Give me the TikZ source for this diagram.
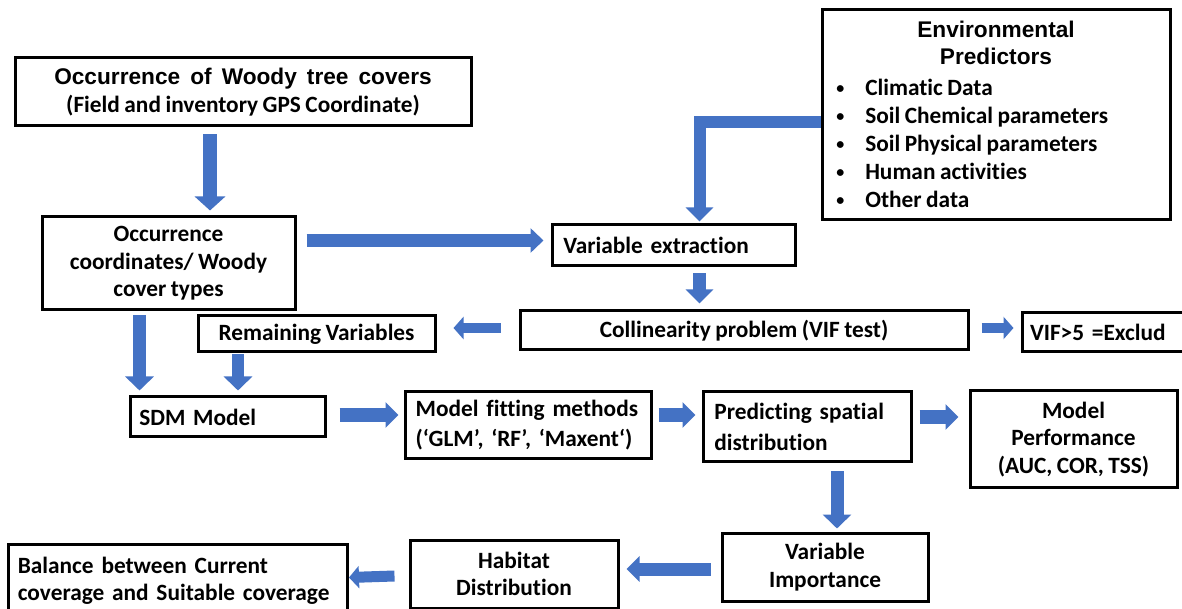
\documentclass[tikz,border=0pt]{standalone}
\usepackage{fontspec}
\setmainfont{Carlito}[WordSpace=0.85,Ligatures=NoCommon]
\newfontfamily\arialfont{Liberation Sans}
\newfontfamily\arialwide{Liberation Sans}[WordSpace=1.6]
\usetikzlibrary{arrows.meta,calc}
\definecolor{ablue}{HTML}{4472C4}
\newcommand\bul{\makebox[21.75pt][l]{\fontsize{12}{12}\selectfont\raisebox{1.5pt}{•}}}
\begin{document}
\begin{tikzpicture}[x=0.75pt,y=-0.75pt,
  box/.style={draw=black, line width=2.25pt, inner sep=0pt,
    font=\fontsize{17.5}{20.5}\selectfont\bfseries, align=center},
  boxl/.style={box, align=left},
  flow/.style n args={3}{draw=ablue, line width=#1, line join=miter,
    -{Triangle[width=#2,length=#3]}}]
\useasboundingbox (0,0) rectangle (1182,609);

% boxes
\node[box, minimum width=342pt, minimum height=51pt] (top) at (243,92)
  {{\arialwide\fontsize{17}{20.25}\selectfont Occurrence of Woody tree covers}\\[1pt]
   (Field and inventory GPS Coordinate)};
\node[box, minimum width=189.75pt, minimum height=69.75pt] (occ) at (168.5,263.5)
  {Occurrence\\coordinates/ Woody\\cover types};
\node[box, minimum width=261pt, minimum height=157.5pt] (env) at (996,115) {};
\node[font=\arialfont\bfseries\fontsize{17}{20.25}\selectfont, align=center, inner sep=0pt]
  (envt) at (996,43) {Environmental\\Predictors};
\node[anchor=west, align=left, inner sep=0pt, font=\fontsize{17.5}{21}\selectfont\bfseries]
  (envl) at (836,143)
  {\bul Climatic Data\\
   \bul Soil Chemical parameters\\
   \bul Soil Physical parameters\\
   \bul Human activities\\
   \bul Other data};
\node[boxl, minimum width=182.25pt, minimum height=30.75pt, inner xsep=8.5pt,
  text width=165.25pt] (var) at (673.5,245.5) {Variable extraction};
\node[box, minimum width=336pt, minimum height=29.25pt] (col) at (744,330.5)
  {Collinearity problem (VIF test)};
\node[boxl, minimum width=127.5pt, minimum height=29.25pt, inner xsep=6pt,
  text width=115.5pt] (vif) at (1107,332.5) {VIF>5 =Exclud};
\node[box, minimum width=177.75pt, minimum height=27pt] (rem) at (316.5,334)
  {Remaining Variables};
\node[boxl, minimum width=146.25pt, minimum height=30pt, inner xsep=7pt,
  text width=132.25pt] (sdm) at (227.5,417) {SDM Model};
\node[boxl, minimum width=184.5pt, minimum height=50.25pt, inner xsep=8pt,
  text width=168.5pt, font=\fontsize{17.5}{22.5}\selectfont\bfseries] (fit) at (528,425)
  {Model fitting methods\\(‘GLM', ‘RF', ‘Maxent‘)};
\node[boxl, minimum width=156pt, minimum height=52.5pt, inner xsep=8.5pt,
  text width=139pt, font=\fontsize{17.5}{23}\selectfont\bfseries] (pred) at (807,427)
  {Predicting spatial\\distribution};
\node[box, minimum width=155.25pt, minimum height=72.75pt] (perf) at (1073.5,439.5)
  {Model\\Performance\\(AUC, COR, TSS)};
\node[box, minimum width=154.5pt, minimum height=51pt] (imp) at (825,567)
  {Variable\\Importance};
\node[box, minimum width=156pt, minimum height=51pt] (hab) at (514,574)
  {Habitat\\Distribution};
\node[boxl, minimum width=254.25pt, minimum height=54pt, inner xsep=7pt,
  text width=240.25pt, anchor=north west] (bal) at (7,543)
  {Balance between Current\\coverage and Suitable coverage\\[9pt]};

% arrows
\draw[flow={10.5pt}{22.5pt}{10.5pt}] ($(top.south)+(-33,7)$) -- ($(occ.north)+(41.5,-5)$);
\draw[flow={9.75pt}{18pt}{9.75pt}] ($(occ.east)+(10,-23)$) -- ($(var.west)+(-7,-5)$);
\draw[flow={9pt}{20.25pt}{10.5pt}] ($(env.west)+(0,7)$) -| ($(var.north)+(26,-2)$);
\draw[flow={9.75pt}{20.25pt}{10.5pt}] ($(var.south)+(26,6)$) -- ($(col.north)+(-44.5,-6)$);
\draw[flow={7.5pt}{16.5pt}{7.5pt}] ($(col.west)+(-18,-2.5)$) -- ($(rem.east)+(17,-6)$);
\draw[flow={7.5pt}{16.5pt}{7.5pt}] ($(col.east)+(12,-2.5)$) -- ($(vif.west)+(-7,-4.5)$);
\draw[flow={9.75pt}{21pt}{10.5pt}] ($(occ.south)+(-29,4)$) -- ($(sdm.north)+(-88,-5)$);
\draw[flow={9pt}{21pt}{10.5pt}] ($(rem.south)+(-78.5,1)$) -- ($(sdm.north)+(10.5,-5)$);
\draw[flow={10.5pt}{18.75pt}{9.75pt}] ($(sdm.east)+(13,-2)$) -- ($(fit.west)+(-5,-10)$);
\draw[flow={10.5pt}{18.75pt}{9.75pt}] ($(fit.east)+(6,-10)$) -- ($(pred.west)+(-6,-12)$);
\draw[flow={10.5pt}{18.75pt}{9.75pt}] ($(pred.east)+(7,-10)$) -- ($(perf.west)+(-10,-22.5)$);
\draw[flow={9.75pt}{21pt}{10.5pt}] ($(pred.south)+(30,8)$) -- ($(imp.north)+(12,-3)$);
\draw[flow={9.75pt}{18.75pt}{9.75pt}] ($(imp.west)+(-10,2)$) -- ($(hab.east)+(7,-5)$);
\draw[flow={8.25pt}{16.5pt}{7.5pt}] ($(hab.west)+(-14,2)$) -- ($(bal.east)+(0,-3)$);
\end{tikzpicture}
\end{document}
